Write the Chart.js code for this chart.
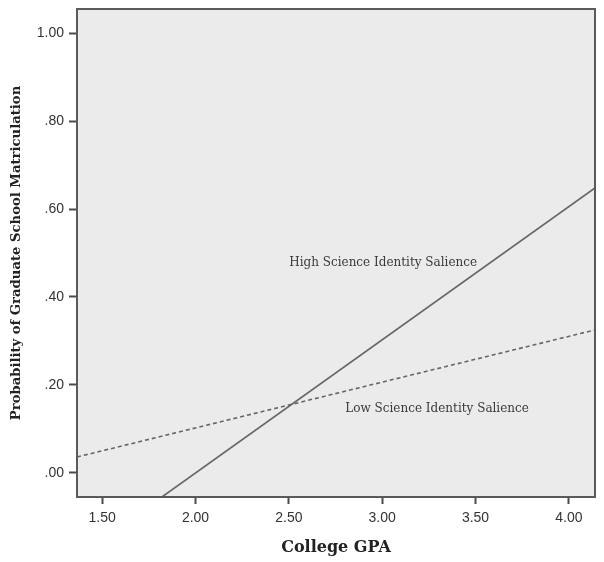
<!DOCTYPE html>
<html>
<head>
<meta charset="utf-8">
<script src="https://cdn.jsdelivr.net/npm/chart.js@4/dist/chart.umd.min.js"></script>
<style>
  html, body { margin: 0; padding: 0; background: #ffffff; }
  #wrap { width: 604px; height: 562px; position: relative; }
</style>
</head>
<body>
<div id="wrap"><canvas id="c" width="604" height="562"></canvas></div>
<script>
// ---- data ----
const xTickValues = [1.5, 2.0, 2.5, 3.0, 3.5, 4.0];
const xTickLabels = ['1.50', '2.00', '2.50', '3.00', '3.50', '4.00'];
const yTickValues = [0, 0.2, 0.4, 0.6, 0.8, 1.0];
const yTickLabels = ['.00', '.20', '.40', '.60', '.80', '1.00'];

const highGPA = [1.82, 4.14];
const highProb = [-0.055, 0.648];
const lowGPA = [1.365, 4.14];
const lowProb = [0.036, 0.325];

const seriesNames = ['High Science Identity Salience', 'Low Science Identity Salience'];
const labelGPA = [3.005, 3.294];
const labelProb = [0.477, 0.145];

const xTitle = 'College GPA';
const yTitle = 'Probability of Graduate School Matriculation';

const xMin = 1.365, xMax = 4.14, yMin = -0.055, yMax = 1.055;

// ---- plugins ----
const plotFrame = {
  id: 'plotFrame',
  beforeDraw(chart) {
    const { ctx, chartArea: a } = chart;
    ctx.save();
    ctx.fillStyle = '#ebebeb';
    ctx.fillRect(a.left, a.top, a.right - a.left, a.bottom - a.top);
    ctx.restore();
  },
  afterDraw(chart) {
    const { ctx, chartArea: a, scales } = chart;
    ctx.save();
    ctx.strokeStyle = '#5a5a5a';
    ctx.lineWidth = 2;
    ctx.strokeRect(a.left, a.top, a.right - a.left, a.bottom - a.top);
    // series labels
    ctx.fillStyle = '#3a3a3a';
    ctx.font = '12px "DejaVu Serif", serif';
    ctx.textAlign = 'center';
    ctx.textBaseline = 'middle';
    for (let i = 0; i < seriesNames.length; i++) {
      ctx.fillText(seriesNames[i], scales.x.getPixelForValue(labelGPA[i]), scales.y.getPixelForValue(labelProb[i]));
    }
    ctx.restore();
  }
};

const toPts = (xs, ys) => xs.map((x, i) => ({ x, y: ys[i] }));

new Chart(document.getElementById('c'), {
  type: 'line',
  data: {
    datasets: [
      {
        label: seriesNames[0],
        data: toPts(highGPA, highProb),
        borderColor: '#666666',
        borderWidth: 1.6,
        pointRadius: 0,
        tension: 0,
        fill: false
      },
      {
        label: seriesNames[1],
        data: toPts(lowGPA, lowProb),
        borderColor: '#666666',
        borderWidth: 1.6,
        borderDash: [4, 3],
        pointRadius: 0,
        tension: 0,
        fill: false
      }
    ]
  },
  options: {
    responsive: false,
    animation: false,
    devicePixelRatio: 1,
    layout: { padding: { top: 9, right: 9, left: 0, bottom: 0 } },
    plugins: {
      legend: { display: false },
      tooltip: { enabled: false }
    },
    scales: {
      x: {
        type: 'linear',
        min: xMin,
        max: xMax,
        afterBuildTicks(scale) { scale.ticks = xTickValues.map(v => ({ value: v })); },
        afterFit(scale) { scale.height = 65; scale.paddingLeft = 0; scale.paddingRight = 0; },
        ticks: {
          callback: (v) => { const i = xTickValues.findIndex(t => Math.abs(t - v) < 1e-9); return i >= 0 ? xTickLabels[i] : ''; },
          color: '#333333',
          font: { family: '"Liberation Sans", Arial, sans-serif', size: 14 },
          padding: 6,
          maxRotation: 0,
          autoSkip: false
        },
        grid: { drawOnChartArea: false, drawTicks: true, tickLength: 7, tickColor: '#4a4a4a', tickWidth: 2 },
        border: { display: true, color: '#5a5a5a', width: 2 },
        title: {
          display: true,
          text: xTitle,
          color: '#222222',
          font: { family: '"DejaVu Serif", serif', size: 16, weight: 'bold' },
          padding: { top: 2, bottom: 5 }
        }
      },
      y: {
        type: 'linear',
        min: yMin,
        max: yMax,
        afterBuildTicks(scale) { scale.ticks = yTickValues.map(v => ({ value: v })); },
        afterFit(scale) { scale.width = 77; scale.paddingTop = 0; scale.paddingBottom = 0; },
        ticks: {
          callback: (v) => { const i = yTickValues.findIndex(t => Math.abs(t - v) < 1e-9); return i >= 0 ? yTickLabels[i] : ''; },
          color: '#333333',
          font: { family: '"Liberation Sans", Arial, sans-serif', size: 14 },
          padding: 5,
          autoSkip: false
        },
        grid: { drawOnChartArea: false, drawTicks: true, tickLength: 8, tickColor: '#4a4a4a', tickWidth: 2 },
        border: { display: true, color: '#5a5a5a', width: 2 },
        title: {
          display: true,
          text: yTitle,
          color: '#222222',
          font: { family: '"DejaVu Serif", serif', size: 13.2, weight: 'bold' },
          padding: { top: 9, bottom: 0 }
        }
      }
    }
  },
  plugins: [plotFrame]
});
</script>
</body>
</html>
